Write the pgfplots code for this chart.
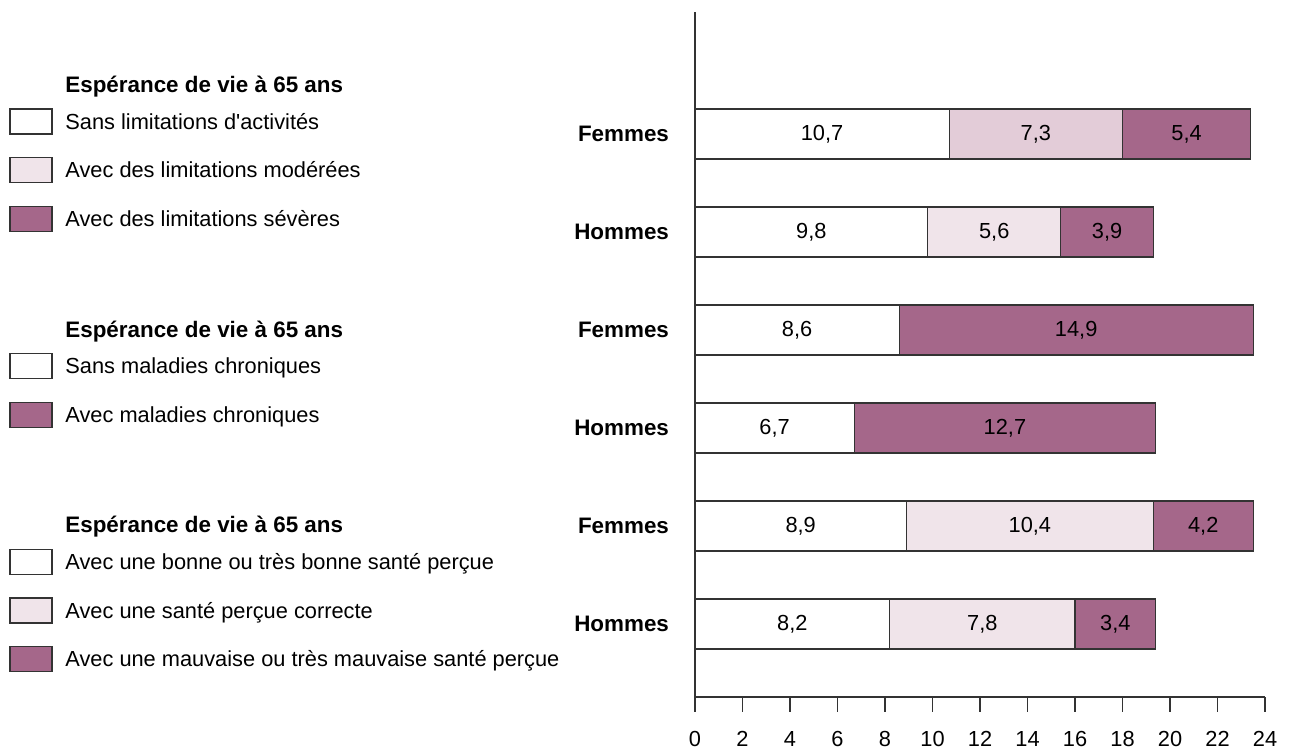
\documentclass[border=0pt]{standalone}
\usepackage{pgfplots}
\pgfplotsset{compat=1.18}
\usepackage{fontspec}
\setmainfont{Liberation Sans}[Ligatures=TeXOff]
\definecolor{clight}{HTML}{F0E4EA}
\definecolor{cmid}{HTML}{E3CCD8}
\definecolor{cdark}{HTML}{A5678A}
\definecolor{cline}{HTML}{333333}
\newcommand{\fs}{\fontsize{10.9}{13}\selectfont}
\newcommand{\fb}{\fontsize{11.2}{13}\selectfont\bfseries}
\begin{document}
\begin{tikzpicture}[font=\fs]
\path[use as bounding box] (0,0) rectangle (645pt,374.5pt);
\begin{axis}[
  at={(347.5pt,26pt)}, anchor=south west,
  scale only axis, width=285pt, height=342.5pt,
  xbar stacked, bar width=25pt,
  xmin=0, xmax=24, ymin=0.255, ymax=7.245,
  axis lines*=left,
  axis line style={cline, line width=0.7pt},
  xtick={0,2,...,24},
  ytick={1,...,6},
  yticklabels={Hommes,Femmes,Hommes,Femmes,Hommes,Femmes},
  yticklabel style={font=\fb, xshift=-2pt},
  ytick style={draw=none},
  xtick style={cline, line width=0.7pt},
  tick align=outside, major tick length=7.5pt,
  xticklabel style={font=\fs, text height=0.72em, text depth=0pt, yshift=-6.5pt},
  /pgf/number format/assume math mode=true,
  point meta=explicit,
  nodes near coords={\pgfmathfloatifflags{\pgfplotspointmeta}{0}{}{\pgfmathprintnumber[fixed,precision=1,fixed zerofill,use comma]{\pgfplotspointmeta}}},
  every node near coord/.append style={anchor=center, text=black, font=\fs},
  every axis plot/.append style={draw=cline, line width=0.6pt},
]
\addplot[fill=white] table[x=v,y=y,meta=v] {
y v
1 8.2
2 8.9
3 6.7
4 8.6
5 9.8
6 10.7
};
\addplot[fill=clight] table[x=v,y=y,meta=v] {
y v
1 7.8
2 10.4
3 0
4 0
5 5.6
6 0
};
\addplot[fill=cmid] table[x=v,y=y,meta=v] {
y v
1 0
2 0
3 0
4 0
5 0
6 7.3
};
\addplot[fill=cdark] table[x=v,y=y,meta=v] {
y v
1 3.4
2 4.2
3 12.7
4 14.9
5 3.9
6 5.4
};
\end{axis}
% legend
\tikzset{lt/.style={anchor=base west, inner sep=0pt, font=\fs},
         lb/.style={draw=cline, line width=0.7pt}}
\node[lt,font=\fb] at (32.5pt,328.2pt) {Espérance de vie à 65 ans};
\draw[lb,fill=white] (5pt,307.5pt) rectangle (26pt,320pt);
\node[lt] at (32.5pt,309.9pt) {Sans limitations d'activités};
\draw[lb,fill=clight] (5pt,283.25pt) rectangle (26pt,295.75pt);
\node[lt] at (32.5pt,285.7pt) {Avec des limitations modérées};
\draw[lb,fill=cdark] (5pt,258.75pt) rectangle (26pt,271.25pt);
\node[lt] at (32.5pt,261.2pt) {Avec des limitations sévères};
\node[lt,font=\fb] at (32.5pt,205.7pt) {Espérance de vie à 65 ans};
\draw[lb,fill=white] (5pt,185.25pt) rectangle (26pt,197.75pt);
\node[lt] at (32.5pt,187.7pt) {Sans maladies chroniques};
\draw[lb,fill=cdark] (5pt,160.75pt) rectangle (26pt,173.25pt);
\node[lt] at (32.5pt,163.2pt) {Avec maladies chroniques};
\node[lt,font=\fb] at (32.5pt,108.2pt) {Espérance de vie à 65 ans};
\draw[lb,fill=white] (5pt,87.25pt) rectangle (26pt,99.75pt);
\node[lt] at (32.5pt,89.7pt) {Avec une bonne ou très bonne santé perçue};
\draw[lb,fill=clight] (5pt,63pt) rectangle (26pt,75.5pt);
\node[lt] at (32.5pt,65.4pt) {Avec une santé perçue correcte};
\draw[lb,fill=cdark] (5pt,38.75pt) rectangle (26pt,51.25pt);
\node[lt] at (32.5pt,41.2pt) {Avec une mauvaise ou très mauvaise santé perçue};
\end{tikzpicture}
\end{document}
